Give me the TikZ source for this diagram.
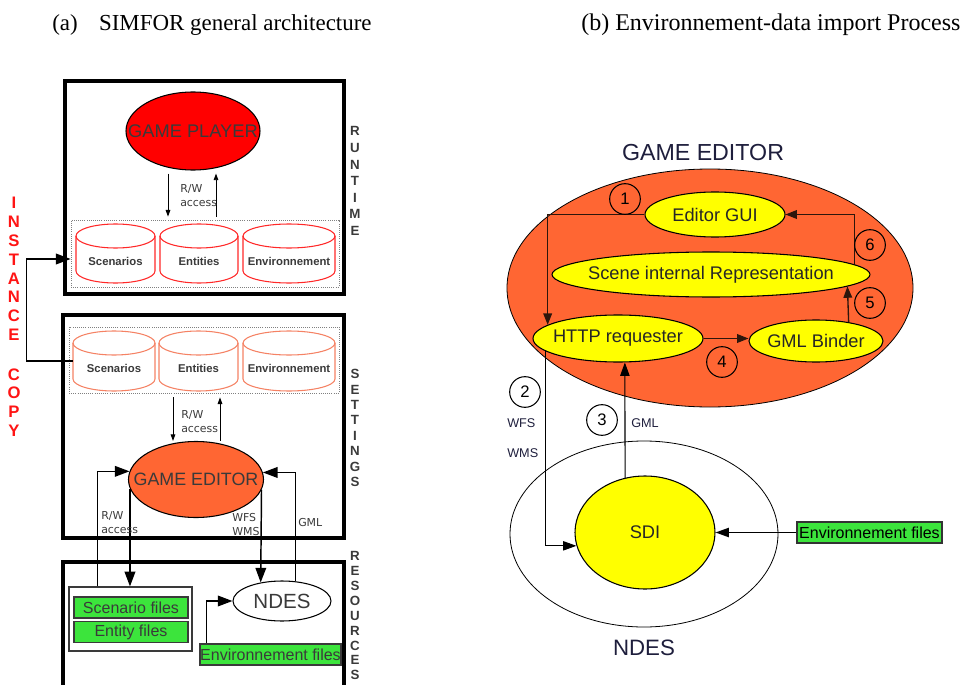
\documentclass[tikz,border=0pt]{standalone}
\usepackage{fontspec}
\setmainfont{Liberation Serif}
\setsansfont{Liberation Sans}
\newfontfamily\djv{DejaVu Sans}
\usetikzlibrary{arrows.meta,calc,shapes.geometric}
\definecolor{gpred}{RGB}{255,0,0}
\definecolor{geor}{RGB}{255,102,51}
\definecolor{fgreen}{RGB}{60,228,60}
\definecolor{ylw}{RGB}{255,255,0}
\definecolor{txt}{RGB}{58,58,58}
\definecolor{cylred}{RGB}{255,40,40}
\definecolor{cylsal}{RGB}{245,130,100}
\definecolor{navy}{RGB}{30,30,60}
\definecolor{lnk}{RGB}{45,22,12}
\definecolor{icred}{RGB}{255,20,20}
\newcommand\zw[1]{\makebox[0pt]{#1}}
\newcommand\dbcyl[7]{%
  \pgfmathsetmacro\cx{(#2+#3)/2}%
  \pgfmathsetmacro\rxpt{(#3-#2)/2*0.75}%
  \pgfmathsetmacro\cy{(#4+#5)/2}%
  \pgfmathsetmacro\wpt{(#3-#2)*0.75}%
  \pgfmathsetmacro\hpt{(#5-#4)*0.75}%
  \filldraw[draw=#6, fill=white, line width=0.8pt] (#2,#4+12) -- (#2,#5-12)
     arc[start angle=180, end angle=360, x radius=\rxpt pt, y radius=9pt] -- (#3,#4+12)
     arc[start angle=0, end angle=180, x radius=\rxpt pt, y radius=9pt] -- cycle;
  \draw[draw=#6, line width=0.8pt] (#2,#4+12)
     arc[start angle=180, end angle=360, x radius=\rxpt pt, y radius=9pt];
  \node[minimum width=\wpt pt, minimum height=\hpt pt, inner sep=0pt] (#1) at (\cx,\cy) {};
  \node[dbtext] (#1-t) at (\cx,\cy+7.5) {#7};
}
\begin{document}
\begin{tikzpicture}[x=0.75pt,y=-0.75pt,
  frame/.style={draw=black, line width=2.3pt, inner sep=0pt},
  dotbox/.style={draw=gray, densely dotted, line width=0.6pt, inner sep=0pt},
  ell/.style={ellipse, draw=black, line width=0.8pt, inner sep=0pt},
  big/.style={line width=1.1pt, -{Triangle[length=11pt,width=8pt]}},
  rw/.style={line width=0.7pt, -{Triangle[length=5pt,width=3.5pt]}},
  rarr/.style={draw=lnk, line width=1pt, -{Triangle[length=8.5pt,width=6.5pt]}},
  rarrb/.style={draw=black, line width=0.8pt, -{Triangle[length=10pt,width=7pt]}},
  dbtext/.style={font=\sffamily\bfseries\fontsize{8.5}{10}\selectfont, text=txt},
  lbl/.style={font=\djv\fontsize{8.2}{10.5}\selectfont, text=txt, align=left, inner sep=0pt},
  vlet/.style={font=\sffamily\bfseries\fontsize{10}{12}\selectfont, text=txt, align=center, inner sep=0pt},
  ictext/.style={font=\sffamily\bfseries\fontsize{12.5}{14.1}\selectfont, text=icred, align=center, inner sep=0pt},
  gfile/.style={draw=txt, line width=1pt, fill=fgreen, inner sep=0pt, text=txt,
     font=\sffamily\fontsize{12}{14}\selectfont},
  yel/.style={ell, fill=ylw, text=black!85, font=\sffamily\fontsize{13.7}{16}\selectfont},
  num/.style={circle, draw=black, line width=0.8pt, minimum size=23pt, inner sep=0pt,
     font=\sffamily\fontsize{12.5}{14}\selectfont},
  slbl/.style={font=\sffamily\fontsize{9.5}{11}\selectfont, text=navy, inner sep=0pt}
]
\useasboundingbox (0,0) rectangle (961,685);

% titles
\node[anchor=base west, inner sep=0pt, font=\fontsize{17.2}{20}\selectfont] (ta) at (52,31)
  {(a)\hspace{16pt}SIMFOR general architecture};
\node[anchor=base west, inner sep=0pt, font=\fontsize{18}{21}\selectfont] (tb) at (581,31)
  {(b) Environnement-data import Process};

% ---------- left panel ----------
\node[frame, minimum width=209.25pt, minimum height=159.75pt] (rtbox) at (204.5,187.5) {};
\node[frame, minimum width=210.75pt, minimum height=167.25pt] (stbox) at (203.5,426.5) {};
\node[frame, minimum width=210.75pt, minimum height=103.5pt] (rsbox) at (203.5,631) {};

\node[ell, fill=gpred, minimum width=100.5pt, minimum height=58.5pt, text=txt,
  font=\sffamily\fontsize{13.7}{16}\selectfont] (gp) at (193,131) {\zw{GAME PLAYER}};

\node[dotbox, minimum width=201pt, minimum height=50.25pt] (rtdb) at (205,253.5) {};
\dbcyl{rSc}{76}{155}{224}{283}{cylred}{Scenarios}
\dbcyl{rEn}{160}{238}{224}{283}{cylred}{Entities}
\dbcyl{rEv}{243}{335}{224}{283}{cylred}{Environnement}

\draw[rw] ($(gp.south)+(-25,3)$) -- ($(rtdb.north)+(-37,-3)$);
\draw[rw] ($(rtdb.north)+(11,-3)$) -- ($(gp.south)+(23,3)$);
\node[lbl, anchor=west] (rw1) at (180,196) {R/W\\access};

\node[dotbox, minimum width=202.5pt, minimum height=49.5pt] (stdb) at (204,360) {};
\dbcyl{sSc}{73}{155}{331}{391}{cylsal}{Scenarios}
\dbcyl{sEn}{159}{238}{331}{391}{cylsal}{Entities}
\dbcyl{sEv}{243}{335}{331}{391}{cylsal}{Environnement}

\node[ell, fill=geor, minimum width=101.25pt, minimum height=57pt, text=txt,
  font=\sffamily\fontsize{13.4}{16}\selectfont] (ge) at (196,479.5) {\zw{GAME EDITOR}};

\draw[rw] ($(stdb.south)+(-31,4)$) -- ($(ge.north)+(-23,0)$);
\draw[rw] ($(ge.north)+(24,0)$) -- ($(stdb.south)+(16,4)$);
\node[lbl, anchor=west] (rw2) at (181,422) {R/W\\access};

\node[draw=txt, line width=0.9pt, fill=white, minimum width=92.25pt, minimum height=48pt, inner sep=0pt] (filesbox) at (130.5,619) {};
\node[gfile, minimum width=85.5pt, minimum height=15.75pt] (scf) at (131,607.5) {Scenario files};
\node[gfile, minimum width=85.5pt, minimum height=15.75pt] (enf) at (131,632) {Entity files};

\node[ell, fill=white, minimum width=73.5pt, minimum height=30pt, text=txt,
  font=\sffamily\fontsize{15.4}{18}\selectfont] (ndes) at (282,601) {\zw{NDES}};
\node[gfile, minimum width=105.75pt, minimum height=15.75pt] (envL) at (270.5,654.5) {\zw{Environnement files}};

\draw[big] ($(filesbox.north west)+(29,0)$) |- (ge.173.5);
\draw[big] (ndes.56) |- (ge.6.5);
\draw[big] (ge.188.9) -- (ge.188.9 |- filesbox.north);
\draw[big] (ge.351.1) -- (ndes.139.3);
\draw[big] ($(envL.north west)+(7,0)$) |- (ndes.west);
\draw[big] (sSc.west) -- ++(-46,0) |- ($(rtdb.west)+(0,5.5)$);

\node[lbl, anchor=west] (rw3) at (101,522.5) {R/W\\access};
\node[lbl, anchor=west] (wfs) at (232,525) {WFS\\WMS};
\node[lbl, anchor=west] (gml) at (298,523) {GML};

\node[vlet, font=\sffamily\bfseries\fontsize{10}{12.4}\selectfont] (vrt) at (355,181) {R\\U\\N\\T\\I\\M\\E};
\node[vlet, font=\sffamily\bfseries\fontsize{10}{11.55}\selectfont] (vst) at (355,428) {S\\E\\T\\T\\I\\N\\G\\S};
\node[vlet, font=\sffamily\bfseries\fontsize{10}{11.2}\selectfont, anchor=north] (vrs) at (355,551) {R\\E\\S\\O\\U\\R\\C\\E\\S};
\node[ictext] (ic1) at (14,269) {I\\N\\S\\T\\A\\N\\C\\E};
\node[ictext] (ic2) at (14,402.5) {C\\O\\P\\Y};

% ---------- right panel ----------
\node[inner sep=0pt, text=navy, font=\sffamily\fontsize{17.4}{20}\selectfont] (getitle) at (703,153) {GAME EDITOR};
\node[ell, draw=black, line width=0.6pt, fill=geor, minimum width=304.5pt, minimum height=178.5pt] (gebig) at (710,288) {};
\node[yel, minimum width=105pt, minimum height=33.75pt] (egui) at (715,214.5) {\zw{Editor GUI}};
\node[yel, minimum width=238.5pt, minimum height=33.75pt] (scene) at (711,274.5) {\zw{Scene internal Representation}};
\node[yel, minimum width=127.5pt, minimum height=35.25pt] (http) at (618,338.5) {\zw{HTTP requester}};
\node[yel, minimum width=100.5pt, minimum height=31.5pt] (binder) at (816,341) {\zw{GML Binder}};

\node[ell, draw=black, line width=0.6pt, fill=white, minimum width=201pt, minimum height=139.5pt] (ndesR) at (644,534) {};
\node[yel, minimum width=105pt, minimum height=84.75pt] (sdi) at (645,532.5) {\zw{SDI}};
\node[inner sep=0pt, text=navy, font=\sffamily\fontsize{16.7}{20}\selectfont] (ndeslbl) at (644,648) {NDES};
\node[draw=black!80, line width=0.8pt, fill=fgreen, minimum width=108.75pt, minimum height=15.75pt, inner sep=0pt,
  font=\sffamily\fontsize{12}{14}\selectfont] (envR) at (869.5,532.5) {\zw{Environnement files}};

\draw[rarr] (egui.west) -| (http.169.7);
\draw[rarr] (scene.4.76) |- (egui.east);
\draw[rarr] (binder.30) -- (scene.355.24);
\draw[rarr] (http.east) -- (http.east -| binder.west);
\draw[rarrb] (http.190.3) |- (sdi.191.2);
\draw[rarrb] (sdi.110.3) -- (http.286.7);
\draw[rarrb] (envR.west) -- (sdi.east);

\node[num] (n1) at (625,199) {1};
\node[num] (n2) at (525,392) {2};
\node[num] (n3) at (602,420) {3};
\node[num] (n4) at (722,362) {4};
\node[num] (n5) at (870,303) {5};
\node[num] (n6) at (870,245) {6};

\node[slbl, anchor=west] (wfsR) at (507,423) {WFS};
\node[slbl, anchor=west] (wmsR) at (507,453) {WMS};
\node[slbl, anchor=west] (gmlR) at (631,423) {GML};
\end{tikzpicture}
\end{document}
